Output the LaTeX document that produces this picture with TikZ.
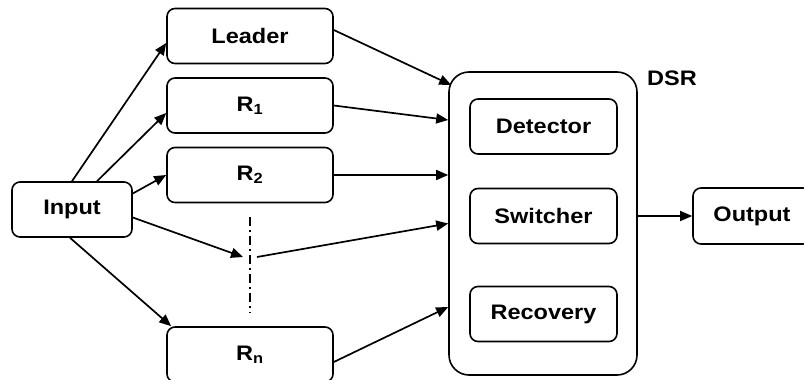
\documentclass[tikz,border=0pt]{standalone}
\usepackage{fontspec}
\setmainfont[FakeStretch=1.12]{Liberation Sans}
\usetikzlibrary{arrows.meta}

\begin{document}
\begin{tikzpicture}[x=1pt,y=1pt,
    box/.style={draw, line width=1.6pt, rounded corners=8pt,
        minimum width=166pt, minimum height=55pt,
        font=\fontsize{21}{25}\selectfont\bfseries},
    link/.style={line width=1.7pt, -{Triangle[length=12pt,width=10pt]}}]
            % Picture frame
            \useasboundingbox (0,0) rectangle (804,380);
            \clip (0,0) rectangle (804,380);

            % Input and the replicas
            \node[box, minimum width=120pt] (input) at (72,170.5) {Input};
            \node[box] (leader) at (250,344) {Leader};
            \node[box] (r1) at (250,274.5) {R\textsubscript{1}};
            \node[box] (r2) at (250,205) {R\textsubscript{2}};
            \node[box] (rn) at (250,25.5) {R\textsubscript{n}};

            % Dash-dot gap between R2 and Rn
            \coordinate (dtop) at (250,163);
            \coordinate (dbot) at (250,67);
            \coordinate (gapin) at (243,123);
            \coordinate (gapout) at (257,123);
            \draw[line width=1.7pt, dash pattern=on 9pt off 4pt on 2pt off 4pt] (dtop) -- (dbot);

            % DSR block with its parts
            \node[box, rounded corners=20pt, minimum width=188pt, minimum height=303pt] (dsr) at (543,156.5) {};
            \node[font=\fontsize{21}{25}\selectfont\bfseries] (dsrname) at (672,302) {DSR};
            \foreach \name/\txt/\y in {detector/Detector/253.5, switcher/Switcher/164, recovery/Recovery/66}
            {
                \node[box, minimum width=147pt] (\name) at (543.5,\y) {\txt};
            }
            \node[box, minimum width=118pt, minimum height=56pt] (output) at (752,164) {Output};

            % Input to replicas
            \draw[link] (input.north) -- ([yshift=-7pt]leader.west);
            \draw[link] ([xshift=25pt]input.north) -- ([yshift=-7.5pt]r1.west);
            \draw[link] ([yshift=16pt]input.east) -- (r2.west);
            \draw[link] ([yshift=-8pt]input.east) -- (gapin);
            \draw[link] ([xshift=-2pt]input.south) -- ([xshift=5pt]rn.north west);

            % Replicas to DSR
            \draw[link] ([yshift=6pt]leader.east) -- ([xshift=3pt,yshift=138.5pt]dsr.west);
            \draw[link] (r1.east) -- ([yshift=103.5pt]dsr.west);
            \draw[link] (r2.east) -- ([yshift=48.5pt]dsr.west);
            \draw[link] (gapout) -- (dsr.west);
            \draw[link] ([yshift=-7.5pt]rn.east) -- ([yshift=-83.5pt]dsr.west);

            % DSR to output
            \draw[link] (dsr.east |- output.west) -- (output.west);
        \end{tikzpicture}
\end{document}
